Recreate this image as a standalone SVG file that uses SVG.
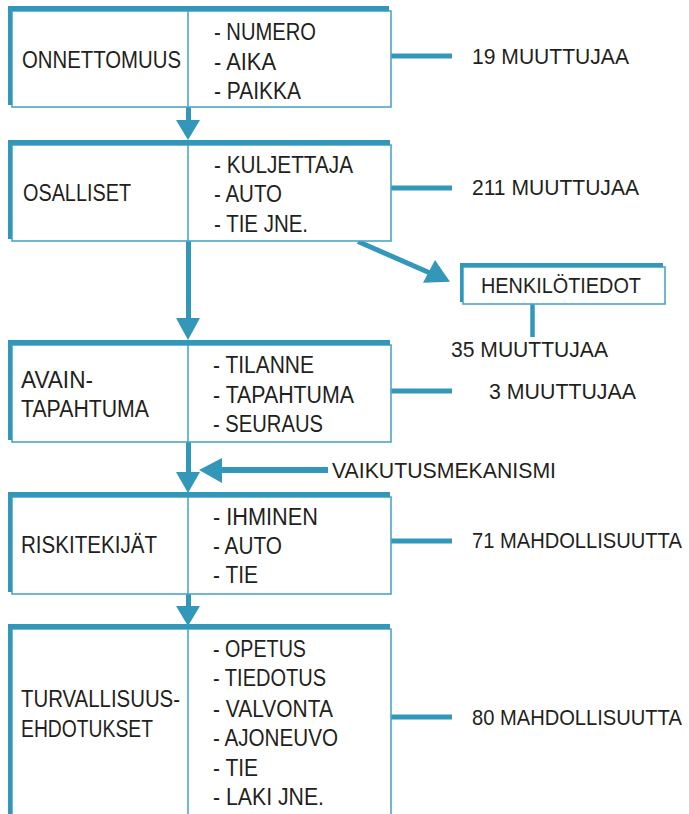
<svg xmlns="http://www.w3.org/2000/svg" width="689" height="814" viewBox="0 0 689 814">
<style>
.bg{fill:#ffffff}
.thick{stroke:#3397b9;stroke-width:5;fill:none}
.left{stroke:#3397b9;stroke-width:4;fill:none}
.thin{stroke:#4aa7c7;stroke-width:1.6;fill:#ffffff}
.div{stroke:#4aa7c7;stroke-width:1.6;fill:none}
.conn{stroke:#3397b9;stroke-width:5;fill:none}
.head{fill:#3397b9}
text{font-family:"Liberation Sans",Arial,sans-serif;font-size:23px;fill:#231f20}
.lbl{font-size:22px}
</style>
<rect class="bg" x="0" y="0" width="689" height="814"/>

<g id="connectors">
  <line class="conn" x1="188.5" y1="107" x2="188.5" y2="122"/>
  <polygon class="head" points="176,120 200,120 188,140"/>
  <line class="conn" x1="188.5" y1="241" x2="188.5" y2="320"/>
  <polygon class="head" points="176,318 200,318 188,340"/>
  <line class="conn" x1="188.5" y1="442" x2="188.5" y2="474"/>
  <polygon class="head" points="176,472 200,472 188,493"/>
  <line class="conn" x1="188.5" y1="594" x2="188.5" y2="608"/>
  <polygon class="head" points="176,606 200,606 188,626"/>
  <line class="conn" x1="391" y1="56" x2="452" y2="56"/>
  <line class="conn" x1="391" y1="188" x2="452" y2="188"/>
  <line class="conn" x1="391" y1="391" x2="452" y2="391"/>
  <line class="conn" x1="391" y1="541" x2="452" y2="541"/>
  <line class="conn" x1="391" y1="717" x2="452" y2="717"/>
  <line class="conn" x1="358" y1="241.5" x2="430" y2="273"/>
  <polygon class="head" points="435,260 450,281.7 423,282.7"/>
  <line class="conn" x1="532.5" y1="304" x2="532.5" y2="337" style="stroke-width:4.5"/>
  <line class="conn" x1="219" y1="470" x2="328" y2="470" style="stroke-width:6"/>
  <polygon class="head" points="199,470 222,458 222,483"/>
</g>

<g id="onnettomuus">
  <rect class="thin" x="12" y="11" width="379" height="96"/>
  <line class="thick" x1="8" y1="8.5" x2="389" y2="8.5"/>
  <line class="left" x1="10" y1="6" x2="10" y2="105"/>
  <line class="div" x1="188" y1="11" x2="188" y2="107"/>
  <text x="22" y="68" textLength="159" lengthAdjust="spacingAndGlyphs">ONNETTOMUUS</text>
  <text x="214" y="40" textLength="102" lengthAdjust="spacingAndGlyphs">- NUMERO</text>
  <text x="214" y="70" textLength="62" lengthAdjust="spacingAndGlyphs">- AIKA</text>
  <text x="214" y="99" textLength="87" lengthAdjust="spacingAndGlyphs">- PAIKKA</text>
</g>
<g id="lbl19"><text class="lbl" x="472" y="63.5" textLength="157" lengthAdjust="spacingAndGlyphs">19 MUUTTUJAA</text></g>

<g id="osalliset">
  <rect class="thin" x="12" y="145" width="379" height="96"/>
  <line class="thick" x1="8" y1="142.5" x2="390" y2="142.5"/>
  <line class="left" x1="10" y1="140" x2="10" y2="239"/>
  <line class="div" x1="188" y1="145" x2="188" y2="241"/>
  <text x="23" y="200.5" textLength="108" lengthAdjust="spacingAndGlyphs">OSALLISET</text>
  <text x="214" y="172.5" textLength="139" lengthAdjust="spacingAndGlyphs">- KULJETTAJA</text>
  <text x="214" y="202" textLength="68" lengthAdjust="spacingAndGlyphs">- AUTO</text>
  <text x="214" y="231.5" textLength="94" lengthAdjust="spacingAndGlyphs">- TIE JNE.</text>
</g>
<g id="lbl211"><text class="lbl" x="472" y="195" textLength="167" lengthAdjust="spacingAndGlyphs">211 MUUTTUJAA</text></g>

<g id="henkilotiedot">
  <rect class="thin" x="463" y="267" width="202" height="37"/>
  <line class="thick" x1="460" y1="265" x2="663" y2="265" style="stroke-width:4"/>
  <line class="left" x1="461.5" y1="263" x2="461.5" y2="302" style="stroke-width:3"/>
  <text class="lbl" x="481" y="292.5" textLength="160" lengthAdjust="spacingAndGlyphs">HENKILÖTIEDOT</text>
</g>
<g id="lbl35"><text class="lbl" x="451" y="357" textLength="157" lengthAdjust="spacingAndGlyphs">35 MUUTTUJAA</text></g>

<g id="avaintapahtuma">
  <rect class="thin" x="12" y="345" width="379" height="97"/>
  <line class="thick" x1="8" y1="342.5" x2="390" y2="342.5"/>
  <line class="left" x1="10" y1="340" x2="10" y2="440"/>
  <line class="div" x1="188" y1="345" x2="188" y2="442"/>
  <text x="21" y="388" textLength="72" lengthAdjust="spacingAndGlyphs">AVAIN-</text>
  <text x="21" y="417" textLength="128" lengthAdjust="spacingAndGlyphs">TAPAHTUMA</text>
  <text x="213" y="373" textLength="101" lengthAdjust="spacingAndGlyphs">- TILANNE</text>
  <text x="213" y="402.5" textLength="141" lengthAdjust="spacingAndGlyphs">- TAPAHTUMA</text>
  <text x="213" y="431.5" textLength="110" lengthAdjust="spacingAndGlyphs">- SEURAUS</text>
</g>
<g id="lbl3"><text class="lbl" x="489" y="399" textLength="147" lengthAdjust="spacingAndGlyphs">3 MUUTTUJAA</text></g>
<g id="vaikutus"><text class="lbl" x="332" y="478" textLength="224" lengthAdjust="spacingAndGlyphs">VAIKUTUSMEKANISMI</text></g>

<g id="riskitekijat">
  <rect class="thin" x="12" y="497" width="379" height="97"/>
  <line class="thick" x1="8" y1="494.5" x2="390" y2="494.5"/>
  <line class="left" x1="10" y1="492" x2="10" y2="592"/>
  <line class="div" x1="188" y1="497" x2="188" y2="594"/>
  <text x="21" y="552.5" textLength="136" lengthAdjust="spacingAndGlyphs">RISKITEKIJÄT</text>
  <text x="213" y="525" textLength="105" lengthAdjust="spacingAndGlyphs">- IHMINEN</text>
  <text x="213" y="554" textLength="69" lengthAdjust="spacingAndGlyphs">- AUTO</text>
  <text x="213" y="583" textLength="45" lengthAdjust="spacingAndGlyphs">- TIE</text>
</g>
<g id="lbl71"><text class="lbl" transform="translate(472,548) scale(0.915,1)" x="0" y="0">71 MAHDOLLISUUTTA</text></g>

<g id="turvallisuusehdotukset">
  <path class="div" d="M12,816 V629 H391 V816"/>
  <line class="thick" x1="8" y1="626.5" x2="390" y2="626.5"/>
  <line class="left" x1="10" y1="624" x2="10" y2="814"/>
  <line class="div" x1="188" y1="629" x2="188" y2="814"/>
  <text x="21" y="707" textLength="159" lengthAdjust="spacingAndGlyphs">TURVALLISUUS-</text>
  <text x="21" y="737" textLength="132" lengthAdjust="spacingAndGlyphs">EHDOTUKSET</text>
  <text x="213" y="656.5" textLength="93" lengthAdjust="spacingAndGlyphs">- OPETUS</text>
  <text x="213" y="686" textLength="113" lengthAdjust="spacingAndGlyphs">- TIEDOTUS</text>
  <text x="213" y="716.5" textLength="120" lengthAdjust="spacingAndGlyphs">- VALVONTA</text>
  <text x="213" y="745.5" textLength="125" lengthAdjust="spacingAndGlyphs">- AJONEUVO</text>
  <text x="213" y="775.5" textLength="45" lengthAdjust="spacingAndGlyphs">- TIE</text>
  <text x="213" y="805" textLength="111" lengthAdjust="spacingAndGlyphs">- LAKI JNE.</text>
</g>
<g id="lbl80"><text class="lbl" transform="translate(472,725) scale(0.915,1)" x="0" y="0">80 MAHDOLLISUUTTA</text></g>
</svg>
